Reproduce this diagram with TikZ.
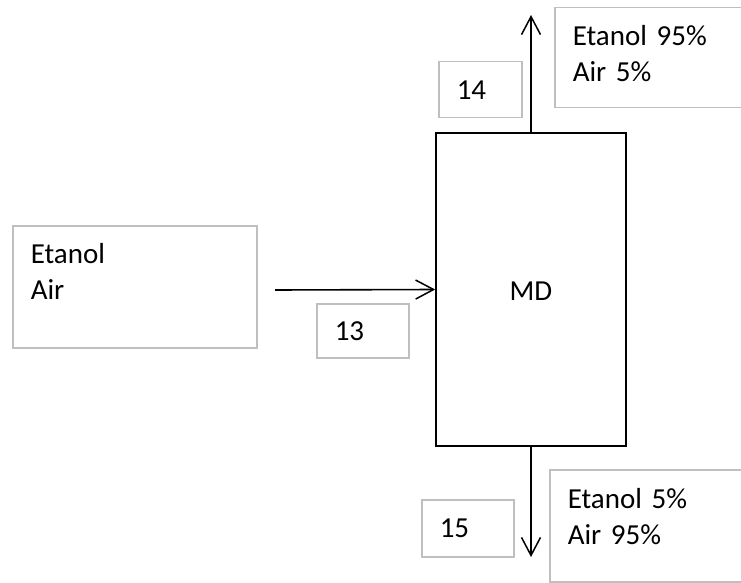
\documentclass[tikz,border=0pt]{standalone}
\usepackage{fontspec}
\setmainfont[WordSpace=0.7]{Carlito}
\usepackage{xcolor}
\usetikzlibrary{arrows.meta}

\definecolor{boxgray}{RGB}{191,191,191}

\begin{document}
\begin{tikzpicture}[
x=1pt,
y=-1pt,
every node/.style={font=\fontsize{29}{35.5}\selectfont},
unit/.style={rectangle,draw=black,line width=1.6pt,inner sep=0pt},
stream/.style={rectangle,draw=boxgray,line width=1.5pt,anchor=north west,align=left,inner xsep=18pt,inner ysep=0pt},
flow/.style={-{Straight Barb[length=18pt,width=19pt,line width=1.5pt]},line width=1.6pt}
]
\clip (0,0) rectangle (741,583);
\fill[white] (0,0) rectangle (741,583);

% column unit
\node[unit,minimum width=190pt,minimum height=313pt,text height=21pt] (md) at (531,289.5) {MD};

% stream data (two-line boxes hang from the first baseline)
\node[stream,text width=208pt,minimum height=122pt,text height=20pt,text depth=66pt] (feed) at (12,225) {Etanol\\Air};
\node[stream,text width=56pt,minimum height=54pt] (n13) at (316,303) {13};
\node[stream,text width=47pt,minimum height=56pt] (n14) at (438,61) {14};
\node[stream,text width=204pt,minimum height=100pt,text height=20pt,text depth=44pt] (top) at (554,7) {Etanol 95\%\\Air 5\%};
\node[stream,text width=56pt,minimum height=57pt] (n15) at (421,499) {15};
\node[stream,text width=204pt,minimum height=112pt,text height=20pt,text depth=54pt] (bottom) at (549,469) {Etanol 5\%\\Air 95\%};

\coordinate (in) at (275,290);
\coordinate (distillate) at (531,15);
\coordinate (residue) at (531,557);

\draw[flow] (in) -- (md.west);
\draw[flow] (md.north) -- (distillate);
\draw[flow] (md.south) -- (residue);
\end{tikzpicture}
\end{document}
